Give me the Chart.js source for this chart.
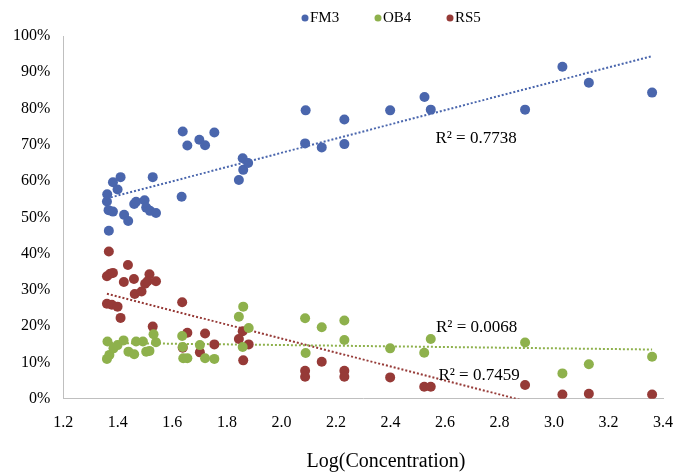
<!DOCTYPE html>
<html>
<head>
<meta charset="utf-8">
<script src="https://cdn.jsdelivr.net/npm/chart.js@4.4.1/dist/chart.umd.min.js"></script>
<style>
  html, body { margin: 0; padding: 0; background: #fff; }
  #wrap { width: 673px; height: 473px; }
</style>
</head>
<body>
<div id="wrap"><canvas id="canvas"></canvas></div>
<script>
// series values (x = log concentration, y = percent)
var fm3X = [1.367, 1.360, 1.361, 1.366, 1.382, 1.382, 1.399, 1.410, 1.423, 1.438, 1.460, 1.467, 1.498, 1.504, 1.518, 1.528, 1.540,
            1.634, 1.638, 1.655, 1.699, 1.720, 1.754, 1.844, 1.858, 1.860, 1.878,
            2.087, 2.089, 2.148, 2.231, 2.231, 2.399, 2.525, 2.548, 2.894, 3.031, 3.128, 3.360];
var fm3Y = [46.3, 54.4, 56.4, 52.0, 51.6, 59.7, 57.7, 61.1, 50.7, 49.0, 53.7, 54.3, 54.7, 52.7, 51.8, 61.1, 51.2,
            55.7, 73.7, 69.8, 71.4, 69.9, 73.4, 60.3, 66.3, 63.1, 65.0,
            70.4, 79.5, 69.3, 77.0, 70.2, 79.5, 83.2, 79.7, 79.7, 91.5, 87.1, 84.4];

var ob4X = [1.360, 1.362, 1.369, 1.384, 1.399, 1.421, 1.439, 1.460, 1.467, 1.492, 1.504, 1.516, 1.531, 1.540,
            1.636, 1.638, 1.640, 1.655, 1.701, 1.720, 1.754, 1.844, 1.858, 1.860, 1.880,
            2.087, 2.089, 2.148, 2.231, 2.231, 2.399, 2.524, 2.548, 2.894, 3.031, 3.128, 3.360];
var ob4Y = [11.0, 15.8, 12.1, 13.9, 14.8, 16.1, 13.0, 12.3, 15.8, 15.8, 13.0, 13.2, 17.8, 15.6,
            17.3, 14.3, 11.2, 11.2, 14.8, 11.2, 11.0, 22.6, 14.3, 25.4, 19.5,
            22.2, 12.6, 19.7, 21.6, 16.2, 13.9, 12.7, 16.5, 15.5, 7.0, 9.5, 11.6];

var rs5X = [1.367, 1.437, 1.360, 1.372, 1.382, 1.422, 1.459, 1.462, 1.487, 1.500, 1.516, 1.509, 1.540, 1.360, 1.378, 1.399, 1.410, 1.528,
            1.636, 1.655, 1.720, 1.638, 1.701, 1.754, 1.858, 1.844, 1.880, 1.860,
            2.148, 2.087, 2.087, 2.231, 2.231, 2.399, 2.524, 2.548, 2.894, 3.031, 3.128, 3.360];
var rs5Y = [40.6, 36.9, 33.8, 34.5, 34.7, 32.2, 33.0, 28.9, 29.6, 31.7, 34.3, 32.4, 32.4, 26.2, 25.9, 25.4, 22.3, 19.9,
            26.6, 18.2, 18.0, 14.1, 12.8, 15.0, 18.6, 16.5, 15.0, 10.6,
            10.2, 7.7, 6.1, 7.7, 6.1, 5.9, 3.3, 3.3, 3.8, 1.2, 1.4, 1.2];

var seriesNames = ['FM3', 'OB4', 'RS5'];
var seriesColors = ['#4a66ad', '#8eb14c', '#963a37'];
var r2Labels = ['R\u00b2 = 0.7738', 'R\u00b2 = 0.0068', 'R\u00b2 = 0.7459'];
var r2Pos = [[2.565, 71.8], [2.567, 19.7], [2.576, 6.4]];
var xTicks = [1.2, 1.4, 1.6, 1.8, 2.0, 2.2, 2.4, 2.6, 2.8, 3.0, 3.2, 3.4];
var xTitle = 'Log(Concentration)';
var serif = '"Liberation Serif", "Times New Roman", serif';

function pts(xs, ys) {
    return xs.map(function (x, i) { return { x: x, y: ys[i] }; });
}

// least squares line over the range of the series
function trend(xs, ys) {
    var n = xs.length, sx = 0, sy = 0, sxx = 0, sxy = 0;
    for (var i = 0; i < n; i++) {
        sx += xs[i]; sy += ys[i]; sxx += xs[i] * xs[i]; sxy += xs[i] * ys[i];
    }
    var b = (n * sxy - sx * sy) / (n * sxx - sx * sx);
    var a = (sy - b * sx) / n;
    var x0 = Math.min.apply(null, xs), x1 = Math.max.apply(null, xs);
    return [{ x: x0, y: a + b * x0 }, { x: x1, y: a + b * x1 }];
}

var allX = [fm3X, ob4X, rs5X];
var allY = [fm3Y, ob4Y, rs5Y];
var datasets = [];
for (var s = 0; s < 3; s++) {
    datasets.push({
        label: seriesNames[s],
        data: pts(allX[s], allY[s]),
        backgroundColor: seriesColors[s],
        borderColor: seriesColors[s],
        pointRadius: 5,
        pointHoverRadius: 5,
        borderWidth: 0,
        showLine: false
    });
}
for (var s = 0; s < 3; s++) {
    datasets.push({
        label: 'trend' + s,
        data: trend(allX[s], allY[s]),
        borderColor: seriesColors[s],
        borderWidth: 2,
        borderDash: [2, 2],
        pointRadius: 0,
        showLine: true,
        fill: false
    });
}

// legend, R² labels and axis title drawn by hand so they sit where the original has them
var extrasPlugin = {
    id: 'extras',
    afterDatasetsDraw: function (chart) {
        var ctx = chart.ctx, xs = chart.scales.x, ys = chart.scales.y;
        ctx.save();
        ctx.fillStyle = '#000';
        ctx.textBaseline = 'middle';
        ctx.font = '17px ' + serif;
        for (var i = 0; i < 3; i++) {
            ctx.fillText(r2Labels[i], xs.getPixelForValue(r2Pos[i][0]), ys.getPixelForValue(r2Pos[i][1]));
        }

        var legX = [305, 378, 450];
        ctx.font = '15px ' + serif;
        for (var i = 0; i < 3; i++) {
            ctx.fillStyle = seriesColors[i];
            ctx.beginPath();
            ctx.arc(legX[i], 18, 3.5, 0, Math.PI * 2);
            ctx.fill();
            ctx.fillStyle = '#000';
            ctx.fillText(seriesNames[i], legX[i] + 5, 18);
        }

        ctx.font = '20px ' + serif;
        ctx.textAlign = 'center';
        ctx.fillText(xTitle, 386, 462);
        ctx.restore();
    }
};

var config = {
    type: 'scatter',
    data: { datasets: datasets },
    options: {
        responsive: true,
        maintainAspectRatio: false,
        animation: false,
        layout: { padding: { top: 36, right: 0, left: 0, bottom: 41 } },
        plugins: {
            tooltip: { enabled: false },
            legend: { display: false }
        },
        scales: {
            x: {
                type: 'linear',
                min: 1.2,
                max: 3.4,
                afterBuildTicks: function (axis) {
                    axis.ticks = xTicks.map(function (v) { return { value: v }; });
                },
                // invisible tick marks give the label gap without widening the right padding
                grid: { display: true, drawOnChartArea: false, drawTicks: true, tickLength: 14, color: 'rgba(0,0,0,0)' },
                border: { color: '#bfbfbf', width: 1 },
                ticks: {
                    padding: 0,
                    color: '#000',
                    font: { family: serif, size: 16 },
                    callback: function (v) { return Number(v).toFixed(1); }
                }
            },
            y: {
                min: 0,
                max: 100,
                grid: { display: false, drawTicks: false },
                border: { color: '#bfbfbf', width: 1 },
                ticks: {
                    stepSize: 10,
                    padding: 13,
                    color: '#000',
                    font: { family: serif, size: 16 },
                    callback: function (v) { return v + '%'; }
                }
            }
        }
    },
    plugins: [extrasPlugin]
};

window.onload = function () {
    window.myScatter = new Chart(document.getElementById('canvas'), config);
};
</script>
</body>
</html>
